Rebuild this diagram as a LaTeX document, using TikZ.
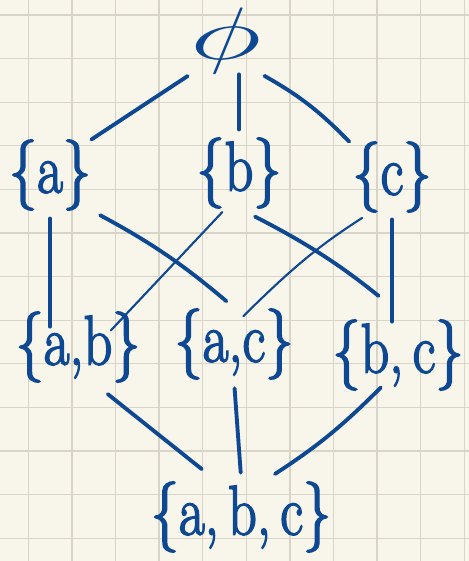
\documentclass[tikz,border=0pt]{standalone}
\usepackage{xcolor}
\usetikzlibrary{calc}
\definecolor{InkBlue}{RGB}{14,72,146}
\definecolor{PaperCream}{RGB}{248,246,234}
\definecolor{GridGray}{RGB}{216,213,200}
% pen-like strokes: tall letters, outlined a little
\newcommand{\hand}[1]{\special{pdf:literal direct 2 Tr 0.8 w}\scalebox{1}[1.25]{#1}\special{pdf:literal direct 0 Tr}}
\tikzset{
  setnode/.style={text=InkBlue, inner sep=0pt, font=\fontsize{32}{32}\selectfont, align=center},
  hasse/.style={InkBlue, line width=2.2pt, line cap=round},
  thinhasse/.style={InkBlue, line width=1.2pt, line cap=round},
  gridline/.style={GridGray, line width=0.7pt},
}

\begin{document}
\begin{tikzpicture}[x=0.02cm, y=-0.02cm]
  % paper with grid
  \fill[PaperCream] (0,0) rectangle (469,561);
  \useasboundingbox (0,0) rectangle (469,561);
  \foreach \i in {0,...,10}
    \draw[gridline] ({28.3+43.6*\i},0) -- ({28.3+43.6*\i},561);
  \foreach \j in {0,...,12}
    \draw[gridline] (0,{15+43.6*\j}) -- (469,{15+43.6*\j});

  % the subsets
  \node[setnode, minimum width=1.4cm, minimum height=1.2cm] (empty) at (226,41) {\scalebox{2.8}[1.7]{$\phi$}};
  \node[setnode, minimum width=1.6cm, minimum height=1.4cm] (a) at (50,175) {\hand{\{a\}}};
  \node[setnode, minimum width=1.76cm, minimum height=1.4cm] (b) at (239,173) {\hand{\{b\}}};
  \node[setnode, minimum width=1.7cm, minimum height=1.36cm] (c) at (392,177) {\hand{\{c\}}};
  \node[setnode, minimum width=2.4cm, minimum height=1.52cm] (ab) at (78,347) {\hand{\{a,b\}}};
  \node[setnode, minimum width=2.12cm, minimum height=1.44cm] (ac) at (234,344) {\hand{\{a,c\}}};
  \node[setnode, minimum width=2.74cm, minimum height=1.72cm] (bc) at (398,355) {\hand{\{b,\,c\}}};
  \node[setnode, minimum width=3.96cm, minimum height=1.6cm] (abc) at (241,517) {\hand{\{a,\,b,\,c\}}};

  % covering relations
  \draw[hasse, shorten <=0.06cm] (empty.south west) -- (a.north east);
  \draw[hasse, shorten >=0.16cm] (b.north |- empty.south) -- (b.north);
  \draw[hasse, shorten <=0.06cm] (empty.south east) to[bend left=8] (c.north west);
  \draw[hasse, shorten <=0.16cm, shorten >=-0.36cm] (a.south) -- (a.south |- ab.north);
  \draw[hasse, shorten <=0.2cm, shorten >=0.2cm] (a.south east) to[bend left=6] (ac.north);
  \draw[thinhasse, shorten <=0.1cm, shorten >=-0.6cm] ($(b.south)!0.3!(b.south west)$) -- ($(ab.north east)!0.15!(ab.north)$);
  \draw[hasse, shorten <=0.36cm, shorten >=0.5cm] (b.south) to[bend left=6] (bc.north);
  \draw[thinhasse, shorten <=0.2cm, shorten >=-0.24cm] ($(c.south)!0.5!(c.south west)$) to[bend right=6] ($(ac.north)!0.3!(ac.north east)$);
  \draw[hasse, shorten <=0.14cm, shorten >=-0.2cm] (c.south) -- (c.south |- bc.north);
  \draw[hasse, shorten <=0.28cm, shorten >=0.24cm] ($(ab.south)!0.3!(ab.south east)$) -- ($(abc.north west)!0.7!(abc.north)$);
  \draw[hasse, shorten <=0.16cm, shorten >=0.08cm] (ac.south) -- (abc.north);
  \draw[hasse, shorten >=0.1cm] ($(bc.south)!0.25!(bc.west)$) to[bend left=6] ($(abc.north)!0.3!(abc.north east)$);
\end{tikzpicture}
\end{document}
